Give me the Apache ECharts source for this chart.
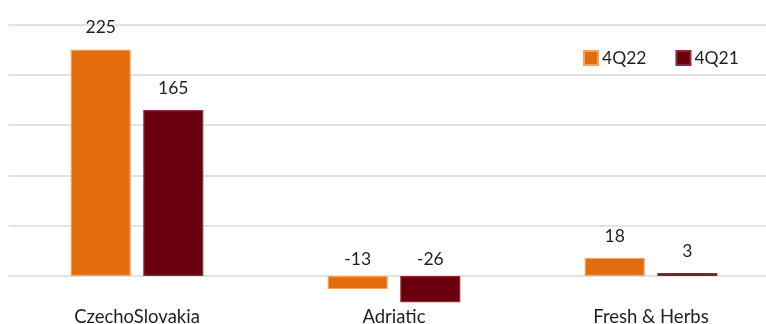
<!DOCTYPE html>
<html>
<head>
<meta charset="utf-8">
<script src="https://cdn.jsdelivr.net/npm/echarts@6/dist/echarts.min.js"></script>
<style>
  html, body { margin: 0; padding: 0; background: #fff; overflow: hidden; }
  /* the canvas runs a little past the window so the -50 line and the last slot sit just outside */
  #chart { width: 800px; height: 340px; }
</style>
</head>
<body>
<div id="chart"></div>
<script>
// Regional results, 4Q22 vs 4Q21
const categories = ['CzechoSlovakia', 'Adriatic', 'Fresh & Herbs'];
const values4Q22 = [225, -13, 18];
const values4Q21 = [165, -26, 3];
const seriesNames = ['4Q22', '4Q21'];

const FONT = 'Lato';
const TEXT = '#1f1f1f';

// Negative bars keep their label just above the zero line
function withLabels(values) {
  return values.map(v => ({
    value: v,
    label: { distance: v < 0 ? 8 : 13 }
  }));
}

const chart = echarts.init(document.getElementById('chart'), null, { renderer: 'canvas' });

chart.setOption({
  animation: false,
  backgroundColor: '#ffffff',
  textStyle: { fontFamily: FONT },
  grid: { left: 8.5, width: 771, top: 24.5, height: 301.8, containLabel: false },
  legend: {
    data: seriesNames,
    left: 578,
    top: 44,
    itemWidth: 14,
    itemHeight: 14,
    itemGap: 29,
    icon: 'rect',
    textStyle: { fontFamily: FONT, fontSize: 17.5, color: TEXT, padding: [0, 0, 0, -1] }
  },
  xAxis: {
    type: 'category',
    data: categories,
    axisLine: { show: false },
    axisTick: { show: false },
    axisLabel: {
      margin: -19,
      fontFamily: FONT,
      fontSize: 18.5,
      color: TEXT,
      verticalAlign: 'top'
    }
  },
  yAxis: {
    type: 'value',
    min: -50,
    max: 250,
    interval: 50,
    axisLabel: { show: false },
    axisLine: { show: false },
    axisTick: { show: false },
    splitLine: { lineStyle: { color: '#d9d9d9', width: 1.5 } }
  },
  series: [
    {
      name: seriesNames[0],
      type: 'bar',
      data: withLabels(values4Q22),
      barWidth: 60,
      barGap: '21%',
      itemStyle: { color: '#E36C0C', borderColor: '#F4A060', borderWidth: 1.2 },
      label: {
        show: true,
        position: 'top',
        fontFamily: FONT,
        fontSize: 17.5,
        color: TEXT
      }
    },
    {
      name: seriesNames[1],
      type: 'bar',
      data: withLabels(values4Q21),
      barWidth: 60,
      barGap: '21%',
      itemStyle: { color: '#6A000E', borderColor: '#8A2A35', borderWidth: 1.2 },
      label: {
        show: true,
        position: 'top',
        fontFamily: FONT,
        fontSize: 17.5,
        color: TEXT
      }
    }
  ]
});
</script>
</body>
</html>
